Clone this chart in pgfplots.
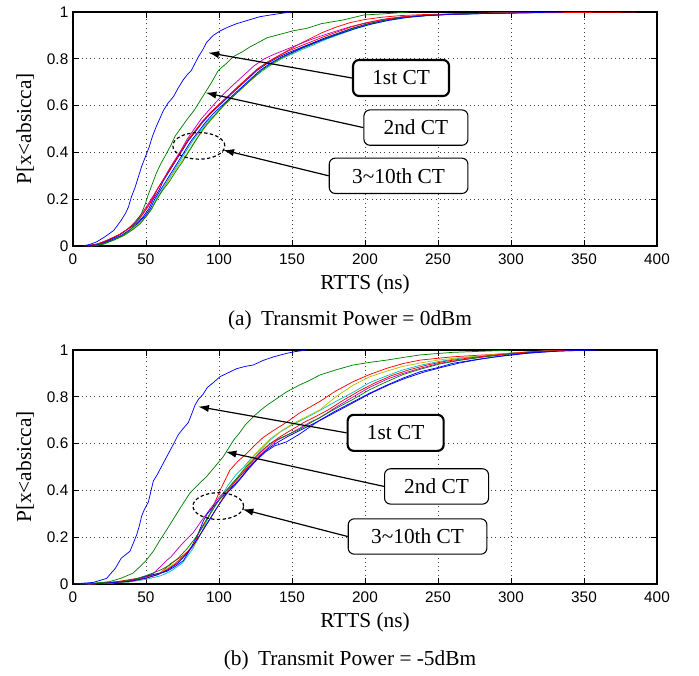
\documentclass[border=0pt]{standalone}
\usepackage{fontspec}
\setmainfont{Liberation Serif}
\newfontfamily\serifx{Liberation Serif}
\newfontfamily\ticksf{Liberation Sans}
\usepackage{pgfplots}
\pgfplotsset{compat=1.18}
\usetikzlibrary{arrows.meta}
\definecolor{mblue}{rgb}{0,0,1}
\definecolor{mgreen}{rgb}{0,0.5,0}
\definecolor{mred}{rgb}{1,0,0}
\definecolor{mcyan}{rgb}{0,0.75,0.75}
\definecolor{mmag}{rgb}{0.75,0,0.75}
\definecolor{myel}{rgb}{0.75,0.75,0}
\pgfplotsset{
  cdfax/.style={
    scale only axis, width=438pt, height=175.5pt,
    anchor=south west,
    xmin=0, xmax=400, ymin=0, ymax=1,
    xtick={0,50,...,400},
    ytick={0,0.2,0.4,0.6,0.8,1},
    yticklabels={0,0.2,0.4,0.6,0.8,1},
    tick align=inside,
    major tick length=4.5pt,
    grid=major,
    grid style={black!75, line width=0.5pt, dash pattern=on 0.6pt off 2.6pt},
    axis line style={black, line width=0.9pt},
    every tick/.style={black, line width=0.6pt},
    ticklabel style={font=\ticksf\fontsize{11.5}{13}\selectfont},
    xticklabel style={yshift=-2pt},
    /pgf/number format/assume math mode=true,
    label style={font=\serifx\fontsize{16}{18}\selectfont},
    xlabel={RTTS (ns)},
    ylabel={P[x<absicca]},
    xlabel style={at={(axis description cs:0.5,-0.162)}, anchor=center},
    ylabel style={at={(axis description cs:-0.082,0.5)}, anchor=center},
    every axis plot/.append style={line width=0.55pt, no markers},
  },
}
\tikzset{
  box/.style={draw=black, fill=white, rounded corners=4.5pt, line width=0.8pt,
    font=\serifx\fontsize{16}{18}\selectfont, inner sep=0pt, minimum height=26.5pt},
  arr/.style={-{Latex[length=8pt,width=5.5pt]}, line width=0.9pt},
}
\begin{document}
\begin{tikzpicture}
\path[use as bounding box] (0,0) rectangle (524.25pt,-506.25pt);
% ---------------- panel (a)
\begin{axis}[cdfax, at={(54.75pt,-184.5pt)}]
% 3rd..10th CT
\addplot[mred] coordinates {(8,0)(16,0.008)(24,0.025)(31,0.045)(37,0.07)(42,0.095)(47,0.13)(51,0.165)(54,0.2)(58,0.245)(62,0.285)(66,0.325)(70,0.365)(74,0.405)(79,0.455)(84,0.495)(89,0.535)(94,0.565)(100,0.605)(106,0.64)(112,0.675)(119,0.715)(126,0.755)(133,0.785)(140,0.81)(147,0.835)(154,0.86)(162,0.885)(170,0.91)(180,0.935)(190,0.955)(200,0.968)(212,0.978)(225,0.985)(240,0.989)(260,0.992)(290,0.995)(330,0.997)(386,1)};
\addplot[mcyan] coordinates {(12,0)(20,0.008)(27,0.025)(34,0.045)(40,0.07)(45,0.095)(50,0.125)(54,0.16)(57,0.2)(61,0.24)(65,0.28)(69,0.32)(73,0.36)(77,0.4)(82,0.45)(87,0.49)(92,0.53)(97,0.56)(103,0.6)(109,0.635)(115,0.67)(122,0.71)(129,0.745)(136,0.775)(143,0.8)(150,0.82)(157,0.84)(165,0.86)(174,0.885)(183,0.905)(193,0.928)(203,0.946)(215,0.963)(228,0.976)(242,0.984)(258,0.989)(278,0.993)(305,0.997)(335,1)};
\addplot[mmag] coordinates {(10,0)(18,0.008)(25,0.025)(31,0.045)(37,0.07)(42,0.1)(46,0.13)(50,0.165)(54,0.205)(58,0.245)(62,0.285)(66,0.33)(70,0.37)(74,0.41)(78,0.455)(83,0.5)(88,0.545)(93,0.58)(98,0.615)(104,0.655)(110,0.69)(117,0.73)(124,0.77)(131,0.8)(138,0.82)(146,0.84)(154,0.86)(162,0.88)(171,0.9)(180,0.918)(190,0.937)(200,0.953)(212,0.968)(225,0.979)(240,0.986)(256,0.99)(276,0.994)(300,0.997)(325,1)};
\addplot[myel] coordinates {(12,0)(20,0.008)(27,0.025)(34,0.045)(40,0.07)(45,0.095)(50,0.125)(54,0.16)(57,0.195)(61,0.235)(65,0.275)(69,0.315)(74,0.36)(78,0.395)(83,0.445)(88,0.485)(92,0.52)(97,0.555)(102,0.59)(108,0.63)(114,0.665)(121,0.705)(128,0.745)(135,0.775)(142,0.8)(149,0.822)(156,0.845)(164,0.865)(173,0.89)(182,0.91)(192,0.932)(202,0.95)(214,0.966)(227,0.978)(241,0.985)(257,0.99)(277,0.993)(302,0.997)(332,1)};
\addplot[mblue] coordinates {(9,0)(17,0.008)(24,0.025)(31,0.045)(37,0.07)(43,0.095)(48,0.125)(52,0.16)(55,0.2)(59,0.24)(62,0.28)(66,0.32)(70,0.36)(74,0.4)(79,0.45)(84,0.49)(89,0.53)(94,0.565)(100,0.6)(106,0.635)(112,0.67)(119,0.71)(126,0.75)(133,0.78)(140,0.805)(147,0.825)(155,0.845)(163,0.865)(172,0.888)(181,0.908)(191,0.93)(201,0.948)(213,0.965)(226,0.978)(241,0.985)(257,0.99)(277,0.993)(300,0.996)(335,1)};
\addplot[mgreen] coordinates {(13,0)(21,0.008)(28,0.025)(35,0.045)(41,0.07)(46,0.095)(50,0.125)(54,0.16)(57,0.195)(61,0.235)(66,0.275)(70,0.315)(75,0.36)(79,0.4)(84,0.45)(88,0.49)(93,0.53)(98,0.565)(103,0.6)(109,0.635)(115,0.67)(122,0.71)(129,0.75)(136,0.78)(143,0.805)(150,0.825)(157,0.845)(165,0.865)(174,0.89)(183,0.91)(193,0.932)(203,0.95)(215,0.966)(228,0.978)(242,0.985)(258,0.99)(278,0.994)(300,0.997)(330,1)};
\addplot[mred] coordinates {(10,0)(18,0.01)(25,0.03)(32,0.05)(38,0.075)(43,0.1)(47,0.13)(51,0.165)(55,0.205)(58,0.245)(62,0.285)(66,0.325)(70,0.365)(74,0.405)(79,0.455)(84,0.495)(89,0.535)(94,0.57)(100,0.605)(106,0.64)(112,0.675)(119,0.715)(126,0.755)(133,0.785)(140,0.81)(148,0.835)(156,0.855)(164,0.875)(172,0.895)(181,0.915)(190,0.935)(200,0.952)(212,0.968)(225,0.979)(240,0.986)(256,0.99)(276,0.994)(300,0.997)(340,1)};
\addplot[mblue] coordinates {(11,0)(19,0.008)(26,0.025)(33,0.045)(39,0.07)(44,0.095)(49,0.125)(53,0.16)(56,0.2)(60,0.24)(64,0.28)(68,0.32)(72,0.36)(76,0.4)(81,0.45)(86,0.49)(91,0.53)(96,0.565)(102,0.6)(108,0.635)(114,0.67)(121,0.71)(128,0.75)(135,0.78)(142,0.805)(150,0.828)(158,0.85)(166,0.87)(175,0.89)(184,0.91)(194,0.93)(204,0.948)(216,0.964)(229,0.977)(243,0.985)(259,0.99)(279,0.993)(303,0.996)(335,1)};
% 2nd CT
\addplot[mgreen] coordinates {(14,0)(21,0.01)(27.6,0.027)(34,0.045)(39,0.067)(43,0.1)(47,0.14)(49.5,0.18)(51.6,0.22)(54,0.26)(57,0.31)(60,0.35)(64,0.395)(67,0.43)(70,0.47)(74,0.505)(78,0.54)(83,0.58)(87,0.62)(91,0.66)(95,0.7)(99.5,0.75)(105,0.78)(110,0.81)(116,0.83)(121,0.85)(127,0.87)(133,0.89)(142,0.905)(151,0.92)(160,0.93)(170,0.95)(185,0.966)(199,0.987)(215,0.993)(230,1)};
% 1st CT
\addplot[mblue] coordinates {(7,0)(12,0.008)(16,0.017)(22,0.04)(28,0.067)(33,0.11)(36,0.14)(38,0.167)(40,0.21)(42.5,0.25)(45,0.3)(47,0.34)(49.5,0.38)(52,0.42)(54.5,0.47)(57,0.51)(59.5,0.545)(62,0.58)(65,0.61)(69,0.64)(72,0.675)(75.5,0.71)(78,0.73)(81,0.75)(83.5,0.78)(86,0.81)(89,0.84)(91.5,0.87)(96,0.9)(101,0.92)(106,0.935)(112,0.95)(120,0.965)(128,0.98)(138,0.99)(149,1)};
% annotations
\draw[black, line width=0.9pt, dash pattern=on 2.5pt off 1.8pt] (axis cs:86.2,0.428) ellipse [x radius=19.5pt, y radius=10pt];
\node[box, line width=1.6pt, minimum width=72pt, minimum height=27pt] (a1) at (axis cs:224.7,0.718) {1st CT};
\node[box, minimum width=78pt] (a2) at (axis cs:234.9,0.506) {2nd CT};
\node[box, minimum width=104pt] (a3) at (axis cs:223,0.300) {3\textasciitilde10th CT};
\draw[arr] (a1.west) -- (axis cs:92.7,0.826);
\draw[arr] (a2.west) -- (axis cs:90.9,0.655);
\draw[arr] (a3.west) -- (axis cs:103,0.41);
\end{axis}
\node[font=\serifx\fontsize{16}{18}\selectfont] at (262.5pt,-240pt) {(a)\hspace{3pt} Transmit Power = 0dBm};
% ---------------- panel (b)
\begin{axis}[cdfax, at={(54.75pt,-438pt)}]
% 3rd..10th CT
\addplot[mred] coordinates {(8,0)(20,0.004)(30,0.01)(40,0.02)(50,0.03)(59.6,0.046)(67,0.088)(75,0.12)(82.4,0.16)(87,0.23)(93.8,0.3)(100.7,0.4)(107.5,0.487)(113,0.525)(119,0.558)(124,0.59)(130,0.625)(137,0.655)(146,0.69)(155,0.73)(162,0.755)(169,0.78)(180,0.825)(192,0.865)(203,0.895)(215,0.922)(226,0.942)(238,0.957)(260,0.971)(290,0.982)(310,0.99)(335,1)};
\addplot[mcyan] coordinates {(10,0)(25,0.004)(38,0.008)(50,0.02)(60,0.035)(67,0.055)(75,0.09)(82,0.15)(88,0.22)(94,0.3)(100,0.36)(106,0.42)(112,0.47)(117,0.5)(121,0.53)(128,0.57)(135,0.615)(142,0.65)(150,0.68)(158,0.705)(164,0.725)(170,0.745)(180,0.78)(192,0.82)(203,0.86)(215,0.89)(226,0.915)(238,0.935)(250,0.95)(265,0.965)(285,0.978)(305,0.99)(340,1)};
\addplot[mmag] coordinates {(12,0)(25,0.004)(38,0.012)(48,0.025)(55,0.045)(60,0.075)(64,0.1)(67,0.115)(71,0.145)(76,0.18)(82.4,0.22)(88,0.27)(93.8,0.32)(100,0.37)(105,0.4)(111,0.44)(116.7,0.475)(122,0.51)(128,0.55)(134,0.585)(140,0.615)(146.4,0.635)(155,0.665)(162,0.69)(169,0.71)(180,0.755)(192,0.8)(203,0.84)(215,0.875)(226,0.9)(238,0.922)(251,0.943)(266,0.958)(281,0.971)(298,0.983)(315,0.992)(340,1)};
\addplot[myel] coordinates {(10,0)(25,0.004)(38,0.01)(48,0.02)(57,0.04)(63,0.06)(70,0.09)(76,0.12)(82.4,0.16)(88,0.22)(94,0.28)(100,0.34)(106,0.4)(112,0.45)(118,0.5)(124,0.55)(130,0.59)(136,0.625)(144,0.66)(152,0.69)(160,0.715)(169,0.744)(180,0.8)(192,0.85)(203,0.885)(215,0.91)(226,0.93)(238,0.945)(251,0.958)(266,0.968)(281,0.977)(298,0.986)(320,0.995)(345,1)};
\addplot[mblue] coordinates {(5,0)(25,0.005)(40,0.015)(48,0.031)(56,0.042)(64,0.053)(70,0.075)(75.6,0.1)(79,0.135)(82.4,0.174)(86,0.22)(89.3,0.27)(92,0.3)(96,0.33)(100,0.36)(105,0.388)(110,0.415)(114,0.444)(120,0.49)(125.8,0.53)(132,0.565)(138,0.59)(146.4,0.608)(155,0.64)(162,0.67)(169,0.7)(180,0.74)(192,0.779)(203,0.815)(215,0.85)(226,0.88)(237.7,0.907)(250,0.925)(260,0.943)(275,0.958)(290,0.971)(310,0.985)(330,0.995)(355,1)};
\addplot[mgreen] coordinates {(8,0)(22,0.005)(35,0.012)(45,0.025)(54,0.045)(60,0.06)(66,0.08)(72,0.11)(78,0.15)(83,0.19)(88,0.235)(93,0.29)(98,0.34)(104,0.39)(109,0.43)(114,0.465)(120,0.51)(126,0.55)(132,0.585)(139,0.615)(146,0.635)(155,0.66)(163,0.69)(170,0.715)(180,0.75)(192,0.79)(203,0.83)(215,0.865)(226,0.895)(238,0.918)(251,0.94)(266,0.957)(281,0.97)(298,0.982)(315,0.992)(340,1)};
\addplot[mred] coordinates {(10,0)(25,0.005)(38,0.012)(50,0.025)(58,0.04)(64,0.06)(70,0.085)(76,0.12)(82,0.165)(87,0.21)(92,0.26)(97,0.31)(102,0.36)(107,0.405)(112,0.445)(117,0.48)(123,0.525)(129,0.565)(135,0.6)(142,0.63)(150,0.66)(158,0.69)(166,0.715)(175,0.745)(185,0.785)(196,0.825)(207,0.86)(218,0.89)(230,0.915)(242,0.935)(255,0.952)(270,0.965)(285,0.976)(300,0.986)(320,0.995)(345,1)};
\addplot[mblue] coordinates {(8,0)(25,0.005)(40,0.012)(50,0.025)(58,0.04)(65,0.06)(72,0.09)(78,0.13)(84,0.18)(89,0.23)(94,0.28)(99,0.33)(104,0.375)(109,0.415)(115,0.455)(121,0.5)(127,0.54)(133,0.575)(140,0.605)(147,0.63)(155,0.655)(163,0.68)(171,0.705)(180,0.735)(192,0.775)(204,0.815)(216,0.85)(228,0.88)(240,0.905)(252,0.925)(265,0.945)(280,0.962)(295,0.976)(312,0.988)(335,0.996)(360,1)};
% 2nd CT
\addplot[mgreen] coordinates {(5,0)(15,0.004)(25,0.01)(33,0.025)(41,0.046)(46,0.075)(50,0.1)(55,0.14)(59.6,0.188)(64,0.23)(67,0.26)(71,0.3)(75,0.34)(80,0.388)(85,0.42)(91.6,0.46)(97,0.5)(103,0.545)(107,0.585)(110,0.615)(114,0.645)(118,0.68)(123.5,0.715)(128,0.74)(133,0.765)(139,0.79)(146,0.82)(155,0.85)(162,0.87)(169,0.893)(180,0.915)(192,0.936)(203,0.947)(215,0.957)(226,0.968)(237.7,0.979)(260,0.99)(290,0.997)(300,1)};
% 1st CT
\addplot[mblue] coordinates {(0,0)(14,0.007)(23,0.024)(29,0.067)(33,0.11)(36,0.125)(39,0.14)(41,0.17)(43.6,0.21)(45.5,0.25)(47,0.29)(49,0.32)(51.6,0.35)(53.5,0.4)(55,0.44)(57.5,0.465)(59.6,0.49)(63,0.53)(66,0.565)(69,0.6)(72,0.637)(75.5,0.665)(79,0.69)(81.5,0.73)(83.6,0.765)(86,0.79)(89,0.81)(92,0.84)(96,0.86)(100.7,0.886)(107,0.905)(112,0.92)(118,0.93)(123.5,0.936)(130,0.955)(137,0.97)(146.4,0.986)(152,0.993)(160,1)};
% annotations
\draw[black, line width=0.9pt, dash pattern=on 2.5pt off 1.8pt] (axis cs:99.5,0.333) ellipse [x radius=19pt, y radius=10pt];
\node[box, line width=1.6pt, minimum width=72pt, minimum height=27pt] (b1) at (axis cs:221,0.646) {1st CT};
\node[box, minimum width=78pt] (b2) at (axis cs:249,0.417) {2nd CT};
\node[box, minimum width=104pt] (b3) at (axis cs:236,0.203) {3\textasciitilde10th CT};
\draw[arr] (b1.west) -- (axis cs:85.8,0.758);
\draw[arr] (b2.west) -- (axis cs:104.6,0.565);
\draw[arr] (b3.west) -- (axis cs:116.2,0.319);
\end{axis}
\node[font=\serifx\fontsize{16}{18}\selectfont] at (262.5pt,-495pt) {(b)\hspace{3pt} Transmit Power = -5dBm};
\end{tikzpicture}
\end{document}
